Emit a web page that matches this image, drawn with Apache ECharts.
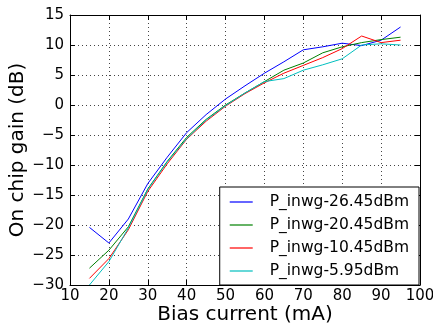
<!DOCTYPE html>
<html><head><meta charset="utf-8">
<script src="https://cdn.jsdelivr.net/npm/echarts@6/dist/echarts.min.js"></script>
<style>html,body{margin:0;padding:0;background:#fff}#c{width:433px;height:329px}</style>
</head><body><div id="c"></div>
<script>
const current = [15,20,25,30,35,40,45,50,55,60,65,70,75,80,85,90,95];
const seriesNames = ['P_inwg-26.45dBm','P_inwg-20.45dBm','P_inwg-10.45dBm','P_inwg-5.95dBm'];
const gain26 = [-20.4,-23.0,-19.0,-13.1,-8.7,-4.6,-1.6,1.0,3.2,5.3,7.2,9.2,9.7,10.3,9.9,10.8,13.0];
const gain20 = [-27.2,-24.2,-20.3,-14.0,-9.4,-5.4,-2.4,0.0,2.0,3.9,5.8,7.0,8.7,9.7,10.4,10.9,11.3];
const gain10 = [-28.9,-25.6,-20.8,-14.4,-9.8,-5.7,-2.7,-0.2,1.9,3.7,5.3,6.6,7.9,9.4,11.5,10.4,10.8];
const gain6  = [-30.0,-26.1,-20.5,-14.1,-9.5,-5.6,-2.5,-0.1,2.0,3.9,4.4,5.8,6.7,7.7,10.0,10.2,10.0];
const xTicks = {min:10, max:100, interval:10};
const yTicks = {min:-30, max:15, interval:5};
const colors = ['#0000ff','#008000','#ff0000','#00bfbf'];
const allGains = [gain26, gain20, gain10, gain6];

const fmt = v => String(v).replace('-', '\u2212');
const font = 'DejaVu Sans';
const chart = echarts.init(document.getElementById('c'));
const gridLine = {show:true, lineStyle:{color:'#444', type:[1,3], width:1}};
const axisLine = {show:true, onZero:false, lineStyle:{color:'#000', width:1}};
const tickIn = {show:true, inside:true, length:5, lineStyle:{color:'#000'}};
chart.setOption({
  animation:false,
  color: colors,
  grid:{left:70, right:13, top:15, bottom:44, containLabel:false, outerBoundsMode:'none'},
  xAxis:[{
    type:'value', min:xTicks.min, max:xTicks.max, interval:xTicks.interval,
    name:'Bias current (mA)', nameLocation:'middle', nameGap:20, nameMoveOverlap:false,
    nameTextStyle:{fontFamily:font, fontSize:20, color:'#000'},
    axisLine, axisTick:tickIn, splitLine:gridLine,
    axisLabel:{fontFamily:font, fontSize:15, color:'#000', margin:4, formatter:fmt}
  },{
    type:'value', position:'top', min:xTicks.min, max:xTicks.max, interval:xTicks.interval,
    axisLine, axisTick:tickIn, splitLine:{show:false}, axisLabel:{show:false}
  }],
  yAxis:[{
    type:'value', min:yTicks.min, max:yTicks.max, interval:yTicks.interval,
    name:'On chip gain (dB)', nameLocation:'middle', nameGap:42, nameMoveOverlap:false,
    nameTextStyle:{fontFamily:font, fontSize:20, color:'#000'},
    axisLine, axisTick:tickIn, splitLine:gridLine,
    axisLabel:{fontFamily:font, fontSize:15, color:'#000', margin:6, formatter:fmt}
  },{
    type:'value', position:'right', min:yTicks.min, max:yTicks.max, interval:yTicks.interval,
    axisLine, axisTick:tickIn, splitLine:{show:false}, axisLabel:{show:false}
  }],
  legend:{
    orient:'vertical', right:14, bottom:44,
    backgroundColor:'#fff', borderColor:'#000', borderWidth:1, borderRadius:0,
    padding:[7,10,6,10], itemGap:7, itemWidth:23, itemHeight:16,
    icon:'path://M0,7.4L23,7.4L23,8.6L0,8.6Z',
    textStyle:{fontFamily:font, fontSize:15.5, color:'#000', padding:[0,0,0,12]},
    data: seriesNames
  },
  series: seriesNames.map((n,i)=>({
    name:n, type:'line', showSymbol:false, symbol:'none',
    lineStyle:{width:1, color:colors[i]},
    data: current.map((x,j)=>[x, allGains[i][j]])
  }))
});
</script></body></html>
